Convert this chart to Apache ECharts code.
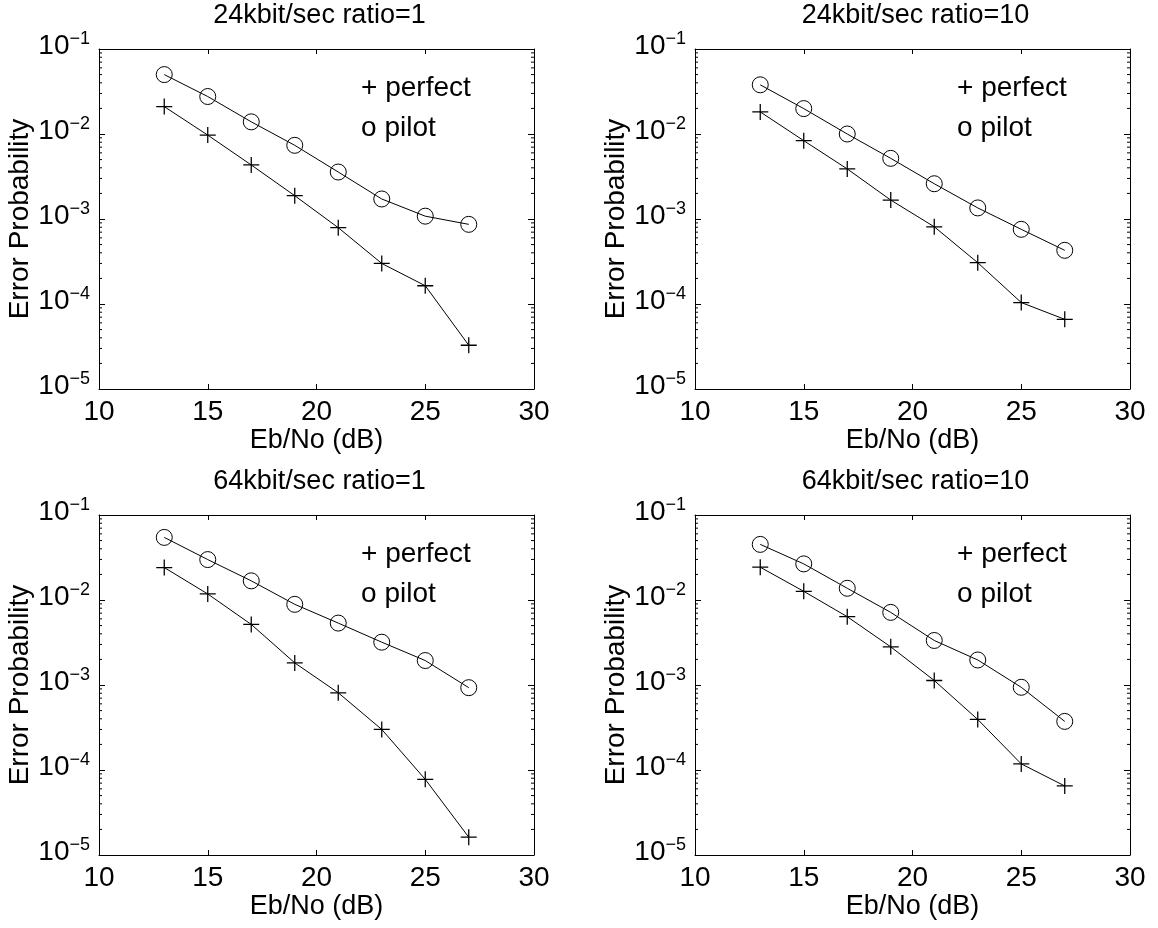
<!DOCTYPE html>
<html><head><meta charset="utf-8">
<script src="https://cdn.jsdelivr.net/npm/echarts@6/dist/echarts.min.js"></script>
<style>html,body{margin:0;padding:0;background:#fff}#c{width:1158px;height:928px}</style>
</head><body><div id="c"></div>
<script>
// ---- data ----
const ebNo = [13, 15, 17, 19, 21, 23, 25, 27];
const panelTitles = ['24kbit/sec ratio=1', '24kbit/sec ratio=10', '64kbit/sec ratio=1', '64kbit/sec ratio=10'];
const perfect24r1  = [0.0210, 0.0097, 0.00432, 0.00188, 0.00079, 0.000300, 0.000164, 0.0000327];
const pilot24r1    = [0.0500, 0.0276, 0.0139, 0.00736, 0.00357, 0.00172, 0.00108, 0.000865];
const perfect24r10 = [0.0182, 0.00835, 0.00388, 0.00167, 0.00081, 0.000306, 0.000104, 0.000066];
const pilot24r10   = [0.0379, 0.0199, 0.0100, 0.00517, 0.00260, 0.00135, 0.000756, 0.000428];
const perfect64r1  = [0.0241, 0.01177, 0.00516, 0.00182, 0.00081, 0.000300, 0.0000776, 0.0000162];
const pilot64r1    = [0.0545, 0.0299, 0.0168, 0.00889, 0.00535, 0.00319, 0.00194, 0.000930];
const perfect64r10 = [0.0243, 0.01265, 0.00636, 0.00281, 0.00113, 0.000393, 0.000118, 0.0000649];
const pilot64r10   = [0.0451, 0.0266, 0.01374, 0.00715, 0.00334, 0.00197, 0.00094, 0.000373];
const xMin = 10, xMax = 30, xStep = 5;
const yMin = 1e-5, yMax = 1e-1;
const yDecades = [1e-5, 1e-4, 1e-3, 1e-2];
const minorMantissas = [2, 3, 4, 5, 6, 7, 8, 9];
const legendLabels = ['+ perfect', 'o pilot'];
const legendX = 22.05;
const legendY = [0.0348, 0.0118];
const xName = 'Eb/No (dB)';
const yName = 'Error Probability';

const panels = [
  { perfect: perfect24r1,  pilot: pilot24r1 },
  { perfect: perfect24r10, pilot: pilot24r10 },
  { perfect: perfect64r1,  pilot: pilot64r1 },
  { perfect: perfect64r10, pilot: pilot64r10 }
];

// ---- layout / style ----
const FONT = '"Liberation Sans", Arial, Helvetica, sans-serif';
const gridPos = [
  { left: 99,  top: 49 },
  { left: 695, top: 49 },
  { left: 99,  top: 515 },
  { left: 695, top: 515 }
];
const GW = 435, GH = 340;
const BLACK = '#000';
const plusPath = 'path://M-0.8,-10 L0.8,-10 L0.8,-0.8 L10,-0.8 L10,0.8 L0.8,0.8 L0.8,10 L-0.8,10 L-0.8,0.8 L-10,0.8 L-10,-0.8 L-0.8,-0.8 Z';

const minorValues = [];
yDecades.forEach(d => minorMantissas.forEach(m => minorValues.push(m * d)));

function supLabel(v) {
  const e = Math.round(Math.log10(v));
  return '{b|10}{s|' + (e < 0 ? '\u2212' : '') + Math.abs(e) + '}';
}

const grid = [], xAxis = [], yAxis = [], series = [], graphic = [];
gridPos.forEach((g, i) => {
  grid.push({ left: g.left, top: g.top, width: GW, height: GH, containLabel: false });
  const axisLine = { show: true, onZero: false, lineStyle: { color: BLACK, width: 1 } };
  xAxis.push({
    type: 'value', gridIndex: i, min: xMin, max: xMax, interval: xStep, position: 'bottom',
    name: xName, nameLocation: 'middle', nameGap: 37,
    nameTextStyle: { fontFamily: FONT, fontSize: 27, color: BLACK },
    axisLine, axisTick: { show: true, inside: true, length: 5, lineStyle: { color: BLACK } },
    axisLabel: { fontFamily: FONT, fontSize: 28, color: BLACK, margin: 9 },
    splitLine: { show: false }
  });
  xAxis.push({
    type: 'value', gridIndex: i, min: xMin, max: xMax, interval: xStep, position: 'top',
    axisLine, axisTick: { show: true, inside: true, length: 5, lineStyle: { color: BLACK } },
    axisLabel: { show: false }, splitLine: { show: false }
  });
  yAxis.push({
    type: 'log', logBase: 10, gridIndex: i, min: yMin, max: yMax, splitNumber: 4, position: 'left',
    name: yName, nameLocation: 'middle', nameRotate: 90, nameGap: 63,
    nameTextStyle: { fontFamily: FONT, fontSize: 28, color: BLACK },
    axisLine, axisTick: { show: true, inside: true, length: 6, lineStyle: { color: BLACK } },
    axisLabel: {
      margin: 9, formatter: supLabel,
      rich: {
        b: { fontFamily: FONT, fontSize: 28, color: BLACK, verticalAlign: 'bottom', lineHeight: 28, padding: [0, 0, 3, 0] },
        s: { fontFamily: FONT, fontSize: 18, color: BLACK, verticalAlign: 'bottom', lineHeight: 18, padding: [0, 0, 15, 0] }
      }
    },
    splitLine: { show: false }
  });
  yAxis.push({
    type: 'log', logBase: 10, gridIndex: i, min: yMin, max: yMax, splitNumber: 4, position: 'right',
    axisLine, axisTick: { show: true, inside: true, length: 6, lineStyle: { color: BLACK } },
    axisLabel: { show: false }, splitLine: { show: false }
  });
  const xi = 2 * i, yi = 2 * i;
  series.push({
    type: 'custom', xAxisIndex: xi, yAxisIndex: yi, silent: true, clip: false,
    data: minorValues.map(v => [xMin, v]),
    renderItem: (params, api) => {
      const v = api.value(1);
      const a = api.coord([xMin, v]);
      const b = api.coord([xMax, v]);
      return {
        type: 'group', children: [
          { type: 'line', shape: { x1: a[0], y1: a[1], x2: a[0] + 3, y2: a[1] }, style: { stroke: BLACK, lineWidth: 1 } },
          { type: 'line', shape: { x1: b[0], y1: b[1], x2: b[0] - 3, y2: b[1] }, style: { stroke: BLACK, lineWidth: 1 } }
        ]
      };
    }
  });
  series.push({
    type: 'line', name: 'perfect', xAxisIndex: xi, yAxisIndex: yi,
    data: ebNo.map((x, k) => [x, panels[i].perfect[k]]),
    symbol: plusPath, symbolSize: 16, showAllSymbol: true,
    lineStyle: { color: BLACK, width: 1 },
    itemStyle: { color: BLACK },
    emphasis: { disabled: true }
  });
  series.push({
    type: 'line', name: 'pilot', xAxisIndex: xi, yAxisIndex: yi,
    data: ebNo.map((x, k) => [x, panels[i].pilot[k]]),
    symbol: 'circle', symbolSize: 16, showAllSymbol: true,
    lineStyle: { color: BLACK, width: 1 },
    itemStyle: { color: 'rgba(255,255,255,0)', borderColor: BLACK, borderWidth: 1 },
    emphasis: { disabled: true }
  });
  graphic.push({
    type: 'text', x: g.left + GW / 2 + 3, y: g.top - 33,
    style: { text: panelTitles[i], font: '27px ' + FONT, fill: BLACK, align: 'center', verticalAlign: 'middle' },
    silent: true
  });
});

const chart = echarts.init(document.getElementById('c'), null, { renderer: 'canvas' });
chart.setOption({ animation: false, backgroundColor: '#fff', grid, xAxis, yAxis, series, graphic });

// legend-like annotations placed in data coordinates
const annot = graphic.slice();
gridPos.forEach((g, i) => {
  legendLabels.forEach((lab, j) => {
    const p = chart.convertToPixel({ gridIndex: i }, [legendX, legendY[j]]);
    annot.push({
      type: 'text', x: p[0], y: p[1],
      style: { text: lab, font: '28px ' + FONT, fill: BLACK, align: 'left', verticalAlign: 'middle' },
      silent: true
    });
  });
});
chart.setOption({ graphic: annot }, { replaceMerge: ['graphic'] });
</script>
</body></html>
